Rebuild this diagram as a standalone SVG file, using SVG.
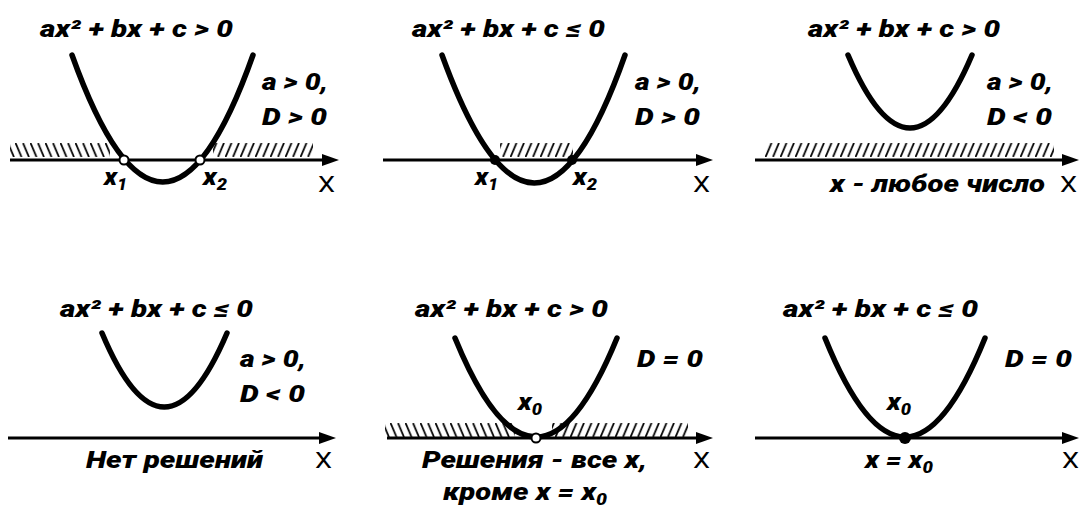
<svg xmlns="http://www.w3.org/2000/svg" width="1080" height="512" viewBox="0 0 1080 512">
<style>
.t{font-family:Roboto,"Liberation Sans",sans-serif;font-weight:900;font-style:italic;font-size:24px;fill:#000}
.s{font-size:16px}
.X{font-family:Roboto,"Liberation Sans",sans-serif;font-size:22px;fill:#000}
.par{fill:none;stroke:#000;stroke-width:5.5;stroke-linecap:round}
.ax{stroke:#000;stroke-width:3;fill:none}
.open{fill:#fff;stroke:#000;stroke-width:2}
.dot{fill:#000}
</style>
<defs>
<marker id="arr" markerUnits="userSpaceOnUse" markerWidth="18" markerHeight="14" refX="8" refY="7" orient="auto">
<path d="M0,1 L17,7 L0,13 z" fill="#000"/>
</marker>
<pattern id="hR1" patternUnits="userSpaceOnUse" x="0" y="143" width="7.5" height="14">
<path d="M0.5,14 L6.5,0" stroke="#000" stroke-width="1.8"/>
</pattern>
<pattern id="hL1" patternUnits="userSpaceOnUse" x="0" y="143" width="7.5" height="14">
<path d="M0.5,0 L6.5,14" stroke="#000" stroke-width="1.8"/>
</pattern>
</defs>

<g id="panel1">
<text class="t" x="40" y="37" textLength="193" lengthAdjust="spacingAndGlyphs">ax² + bx + c &gt; 0</text>
<rect x="10" y="143" width="100" height="14" fill="url(#hL1)"/>
<rect x="213" y="143" width="100" height="14" fill="url(#hR1)"/>
<line class="ax" x1="10" y1="160" x2="330" y2="160" marker-end="url(#arr)"/>
<path class="par" d="M72,55 Q163,309 253,55"/>
<circle class="open" cx="124" cy="160" r="4.5"/>
<circle class="open" cx="200" cy="160" r="4.5"/>
<text class="t" x="262" y="90" textLength="66" lengthAdjust="spacingAndGlyphs">a &gt; 0,</text>
<text class="t" x="262" y="125" textLength="65" lengthAdjust="spacingAndGlyphs">D &gt; 0</text>
<text class="t" x="104" y="185" textLength="23" lengthAdjust="spacingAndGlyphs">x<tspan class="s" dy="5">1</tspan></text>
<text class="t" x="203" y="185" textLength="24" lengthAdjust="spacingAndGlyphs">x<tspan class="s" dy="5">2</tspan></text>
<text class="X" x="318" y="192" textLength="17" lengthAdjust="spacingAndGlyphs">X</text>
</g>

<g id="panel2">
<text class="t" x="412" y="37" textLength="193" lengthAdjust="spacingAndGlyphs">ax² + bx + c ≤ 0</text>
<rect x="500" y="143" width="73" height="14" fill="url(#hR1)"/>
<line class="ax" x1="383" y1="160" x2="704" y2="160" marker-end="url(#arr)"/>
<path class="par" d="M442,55 Q535,311 625,55"/>
<circle class="dot" cx="495" cy="160" r="5"/>
<circle class="dot" cx="572" cy="160" r="5"/>
<text class="t" x="635" y="90" textLength="66" lengthAdjust="spacingAndGlyphs">a &gt; 0,</text>
<text class="t" x="635" y="125" textLength="65" lengthAdjust="spacingAndGlyphs">D &gt; 0</text>
<text class="t" x="475" y="185" textLength="23" lengthAdjust="spacingAndGlyphs">x<tspan class="s" dy="5">1</tspan></text>
<text class="t" x="573" y="185" textLength="24" lengthAdjust="spacingAndGlyphs">x<tspan class="s" dy="5">2</tspan></text>
<text class="X" x="693" y="192" textLength="17" lengthAdjust="spacingAndGlyphs">X</text>
</g>

<g id="panel3">
<text class="t" x="808" y="37" textLength="192" lengthAdjust="spacingAndGlyphs">ax² + bx + c &gt; 0</text>
<rect x="765" y="143" width="289" height="14" fill="url(#hR1)"/>
<line class="ax" x1="755" y1="160" x2="1070" y2="160" marker-end="url(#arr)"/>
<path class="par" d="M848,55 Q910,201 972,55"/>
<text class="t" x="987" y="90" textLength="66" lengthAdjust="spacingAndGlyphs">a &gt; 0,</text>
<text class="t" x="987" y="125" textLength="65" lengthAdjust="spacingAndGlyphs">D &lt; 0</text>
<text class="t" x="830" y="192" textLength="215" lengthAdjust="spacingAndGlyphs">x - любое число</text>
<text class="X" x="1060" y="192" textLength="17" lengthAdjust="spacingAndGlyphs">X</text>
</g>

<g id="panel4">
<text class="t" x="60" y="317" textLength="193" lengthAdjust="spacingAndGlyphs">ax² + bx + c ≤ 0</text>
<path class="par" d="M102,333 Q164,481 227,333"/>
<text class="t" x="240" y="367" textLength="66" lengthAdjust="spacingAndGlyphs">a &gt; 0,</text>
<text class="t" x="240" y="402" textLength="65" lengthAdjust="spacingAndGlyphs">D &lt; 0</text>
<line class="ax" x1="8" y1="438" x2="327" y2="438" marker-end="url(#arr)"/>
<text class="t" x="86" y="468" textLength="177" lengthAdjust="spacingAndGlyphs">Нет решений</text>
<text class="X" x="315" y="468" textLength="17" lengthAdjust="spacingAndGlyphs">X</text>
</g>

<g id="panel5">
<text class="t" x="415" y="317" textLength="193" lengthAdjust="spacingAndGlyphs">ax² + bx + c &gt; 0</text>
<rect x="385" y="423" width="130" height="14" fill="url(#hL1)"/>
<rect x="552" y="423" width="136" height="14" fill="url(#hR1)"/>
<line class="ax" x1="387" y1="438" x2="704" y2="438" marker-end="url(#arr)"/>
<path class="par" d="M455,338 Q536,536 617,338"/>
<circle class="open" cx="536" cy="438" r="4.5"/>
<text class="t" x="518" y="410" textLength="24" lengthAdjust="spacingAndGlyphs">x<tspan class="s" dy="5">0</tspan></text>
<text class="t" x="637" y="367" textLength="66" lengthAdjust="spacingAndGlyphs">D = 0</text>
<text class="t" x="422" y="468" textLength="225" lengthAdjust="spacingAndGlyphs">Решения - все x,</text>
<text class="t" x="443" y="500" textLength="164" lengthAdjust="spacingAndGlyphs">кроме x = x<tspan class="s" dy="5">0</tspan></text>
<text class="X" x="693" y="468" textLength="17" lengthAdjust="spacingAndGlyphs">X</text>
</g>

<g id="panel6">
<text class="t" x="783" y="317" textLength="195" lengthAdjust="spacingAndGlyphs">ax² + bx + c ≤ 0</text>
<line class="ax" x1="755" y1="438" x2="1070" y2="438" marker-end="url(#arr)"/>
<path class="par" d="M825,338 Q905,536 985,338"/>
<circle class="dot" cx="905" cy="438" r="6"/>
<text class="t" x="887" y="410" textLength="24" lengthAdjust="spacingAndGlyphs">x<tspan class="s" dy="5">0</tspan></text>
<text class="t" x="1005" y="367" textLength="67" lengthAdjust="spacingAndGlyphs">D = 0</text>
<text class="t" x="865" y="468" textLength="68" lengthAdjust="spacingAndGlyphs">x = x<tspan class="s" dy="5">0</tspan></text>
<text class="X" x="1062" y="468" textLength="17" lengthAdjust="spacingAndGlyphs">X</text>
</g>
</svg>
